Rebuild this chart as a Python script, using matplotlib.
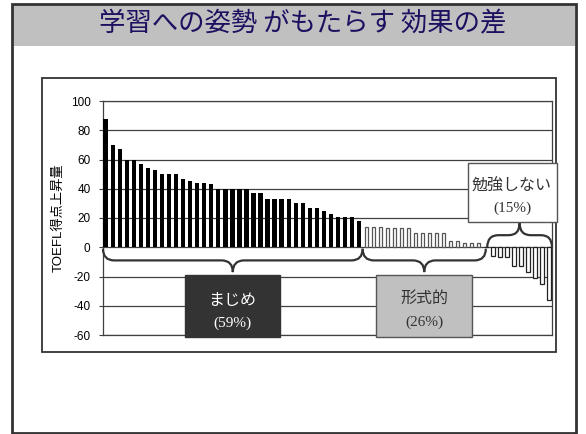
import matplotlib
matplotlib.use('Agg')
import matplotlib.pyplot as plt
from matplotlib.patches import Rectangle, PathPatch
from matplotlib.path import Path
import numpy as np

# data
majime = [88, 70, 67, 60, 60, 57, 54, 53, 50, 50, 50, 47, 45, 44, 44, 43,
          40, 40, 40, 40, 40, 37, 37, 33, 33, 33, 33, 30, 30, 27, 27, 25,
          23, 21, 21, 21, 18]
keishiki = [14, 14, 14, 13, 13, 13, 13, 10, 10, 10, 10, 10, 4, 4, 3, 3, 3]
shinai = [0, -6, -7, -7, -13, -13, -17, -21, -25, -36]
yticks = [-60, -40, -20, 0, 20, 40, 60, 80, 100]
group_labels = ['まじめ', '形式的', '勉強しない']
group_pcts = ['(59%)', '(26%)', '(15%)']

title = '学習への姿勢 がもたらす 効果の差'
ylabel = 'TOEFL得点上昇量'

jp = ['Noto Sans CJK JP', 'DejaVu Sans']
W, H = 586, 434
fig = plt.figure(figsize=(W / 100, H / 100), dpi=100)

# plot area (pixel positions from the reference)
px0, px1, py0, py1 = 103, 552, 101, 335
ax = fig.add_axes([px0 / W, 1 - py1 / H, (px1 - px0) / W, (py1 - py0) / H])

n1, n2, n3 = len(majime), len(keishiki), len(shinai)
x1 = np.arange(n1)
x2 = np.arange(n1, n1 + n2)
x3 = np.arange(n1 + n2, n1 + n2 + n3)

ax.bar(x1, majime, width=0.62, color='black', zorder=3)
ax.bar(x2, keishiki, width=0.45, color='white', edgecolor='#555555', linewidth=0.9, zorder=3)
ax.bar(x3, shinai, width=0.5, color='white', edgecolor='#222222', linewidth=0.9, zorder=3)

ax.set_xlim(-0.38, n1 + n2 + n3 - 0.6)
ax.set_ylim(-60, 100)
ax.set_yticks(yticks)
ax.set_yticklabels([str(v) for v in yticks], fontsize=8.5, family='Liberation Sans')
ax.set_xticks([])
for v in yticks:
    ax.axhline(v, color='#404040', lw=0.9, zorder=1)
ax.tick_params(axis='y', direction='out', length=3, width=0.8, color='#404040', pad=6)
for s in ax.spines.values():
    s.set_color('#404040')
    s.set_linewidth(0.9)


def brace(ax, xa, xb, y0, h, r=1.6):
    xm = (xa + xb) / 2
    q = y0 + h / 2
    verts = [(xa, y0), (xa, q), (xa + r, q),
             (xm - r, q),
             (xm, q), (xm, y0 + h),
             (xm, q), (xm + r, q),
             (xb - r, q),
             (xb, q), (xb, y0)]
    codes = [Path.MOVETO, Path.CURVE3, Path.CURVE3,
             Path.LINETO,
             Path.CURVE3, Path.CURVE3,
             Path.CURVE3, Path.CURVE3,
             Path.LINETO,
             Path.CURVE3, Path.CURVE3]
    ax.add_patch(PathPatch(Path(verts, codes), fill=False, ec='#333333', lw=1.6,
                           zorder=4, clip_on=False))


b1 = n1 - 0.5
b2 = n1 + n2 - 0.5 + 0.5
brace(ax, -0.38, b1, -1, -16)
brace(ax, b1, b2, -1, -16)
brace(ax, b2 + 0.2, n1 + n2 + n3 - 0.6, 0, 16.5)

# overlay in pixel coordinates
ov = fig.add_axes([0, 0, 1, 1], zorder=5)
ov.set_xlim(0, W)
ov.set_ylim(H, 0)
ov.axis('off')
ov.patch.set_alpha(0)

ov.add_patch(Rectangle((12, 4), 563, 42, fc='#c0c0c0', ec='none'))
ov.add_patch(Rectangle((11.5, 3.5), 564, 429, fc='none', ec='#333333', lw=2))
ov.text(303, 24, title, fontsize=19, color='#1c1060', ha='center', va='center', family=jp)

ov.add_patch(Rectangle((42, 78), 514, 274, fc='none', ec='#333333', lw=1.3))
ov.text(59, 218, ylabel, rotation=90, fontsize=9.5, ha='center', va='center',
        family=['Liberation Sans', 'Noto Sans CJK JP'])

# group boxes
ov.add_patch(Rectangle((185, 275), 95, 62, fc='#333333', ec='#333333', lw=1))
ov.text(232, 301, group_labels[0], fontsize=11.5, color='white', ha='center', va='center', family=jp)
ov.text(232, 323, group_pcts[0], fontsize=11, color='white', ha='center', va='center',
        family='Liberation Serif')

ov.add_patch(Rectangle((376, 275), 96, 62, fc='#c0c0c0', ec='#555555', lw=1))
ov.text(424, 298, group_labels[1], fontsize=11.5, color='#333333', ha='center', va='center', family=jp)
ov.text(424, 322, group_pcts[1], fontsize=11, color='#333333', ha='center', va='center',
        family='Liberation Serif')

ov.add_patch(Rectangle((468, 163), 89, 59, fc='white', ec='#555555', lw=1))
ov.text(512, 186, group_labels[2], fontsize=11.5, color='#333333', ha='center', va='center', family=jp)
ov.text(512, 208, group_pcts[2], fontsize=11, color='#333333', ha='center', va='center',
        family='Liberation Serif')

fig.savefig('out.png', dpi=100)
